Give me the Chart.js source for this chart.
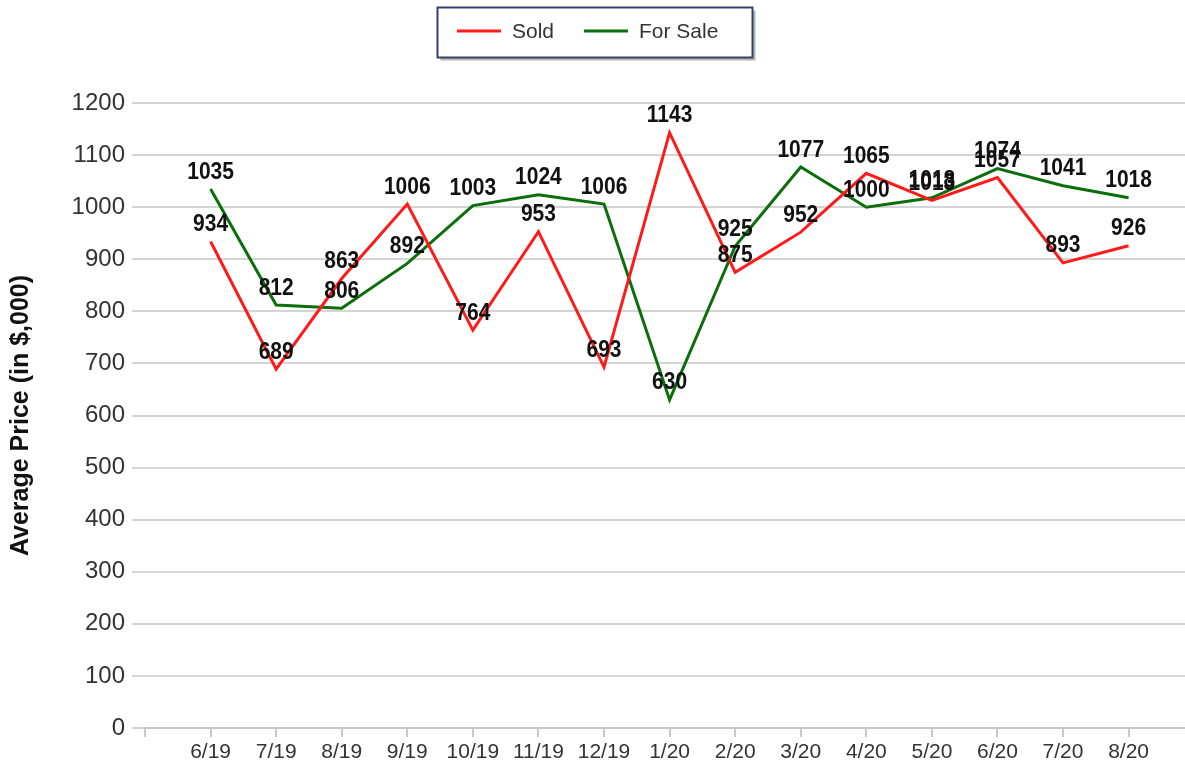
<!DOCTYPE html>
<html>
<head>
<meta charset="utf-8">
<script src="https://cdn.jsdelivr.net/npm/chart.js@4"></script>
<style>
  html, body { margin: 0; padding: 0; background: #ffffff; }
  #wrap { position: relative; width: 1185px; height: 769px; }
</style>
</head>
<body>
<div id="wrap"><canvas id="c" width="1185" height="769"></canvas></div>
<script>
const categories = ['6/19','7/19','8/19','9/19','10/19','11/19','12/19','1/20','2/20','3/20','4/20','5/20','6/20','7/20','8/20'];
const soldValues = [934, 689, 863, 1006, 764, 953, 693, 1143, 875, 952, 1065, 1013, 1057, 893, 926];
const forSaleValues = [1035, 812, 806, 892, 1003, 1024, 1006, 630, 925, 1077, 1000, 1018, 1074, 1041, 1018];
const seriesNames = ['Sold', 'For Sale'];
const seriesColors = ['#ff1a1a', '#0a6e0a'];
const yTickValues = [0,100,200,300,400,500,600,700,800,900,1000,1100,1200];
const yAxisTitle = 'Average Price (in $,000)';

const FONT = '"Liberation Sans", Arial, sans-serif';

function toPoints(vals) { return vals.map((v, i) => ({ x: i + 1, y: v })); }

const dataLabelPlugin = {
  id: 'dataLabels',
  afterDatasetsDraw(chart) {
    const ctx = chart.ctx;
    ctx.save();
    ctx.font = 'bold 21px ' + FONT;
    ctx.fillStyle = '#111111';
    ctx.textAlign = 'center';
    ctx.textBaseline = 'bottom';
    const sy = 1.15;
    chart.data.datasets.forEach((ds, di) => {
      const meta = chart.getDatasetMeta(di);
      meta.data.forEach((pt, i) => {
        ctx.save();
        ctx.translate(pt.x, pt.y - 5);
        ctx.scale(1, sy);
        ctx.fillText(String(ds.data[i].y), 0, 0);
        ctx.restore();
      });
    });
    ctx.restore();
  }
};

const boxLegendPlugin = {
  id: 'boxLegend',
  afterDraw(chart) {
    const ctx = chart.ctx;
    ctx.save();
    const bx = 437.5, by = 7.5, bw = 315, bh = 50;
    ctx.fillStyle = 'rgba(120,120,120,0.55)';
    ctx.fillRect(bx + 3, by + 3, bw, bh);
    ctx.fillStyle = '#ffffff';
    ctx.fillRect(bx, by, bw, bh);
    ctx.strokeStyle = '#34426a';
    ctx.lineWidth = 2;
    ctx.strokeRect(bx, by, bw, bh);
    ctx.font = '21px ' + FONT;
    ctx.textBaseline = 'middle';
    ctx.textAlign = 'left';
    let x = 457;
    const y = 31;
    chart.data.datasets.forEach((ds) => {
      ctx.strokeStyle = ds.borderColor;
      ctx.lineWidth = 3;
      ctx.beginPath();
      ctx.moveTo(x, y);
      ctx.lineTo(x + 44, y);
      ctx.stroke();
      ctx.fillStyle = '#333333';
      ctx.fillText(ds.label, x + 55, y + 1);
      x += 55 + ctx.measureText(ds.label).width + 30;
    });
    ctx.restore();
  }
};

new Chart(document.getElementById('c'), {
  type: 'line',
  data: {
    datasets: [
      { label: seriesNames[0], data: toPoints(soldValues), borderColor: seriesColors[0], backgroundColor: seriesColors[0], borderWidth: 3, pointRadius: 0, tension: 0, fill: false },
      { label: seriesNames[1], data: toPoints(forSaleValues), borderColor: seriesColors[1], backgroundColor: seriesColors[1], borderWidth: 3, pointRadius: 0, tension: 0, fill: false }
    ]
  },
  options: {
    responsive: false,
    animation: false,
    layout: { padding: { top: 103, left: 0, right: 0, bottom: 0 } },
    plugins: { legend: { display: false }, tooltip: { enabled: false } },
    scales: {
      x: {
        type: 'linear',
        min: 0,
        max: 15.86,
        afterBuildTicks(scale) {
          scale.ticks = [{ value: 0 }].concat(categories.map((c, i) => ({ value: i + 1 })));
        },
        afterFit(scale) { scale.height = 41; },
        ticks: {
          autoSkip: false,
          maxRotation: 0,
          padding: 3,
          color: '#333333',
          font: { family: FONT, size: 21 },
          callback(v) { return v >= 1 && v <= categories.length ? categories[v - 1] : ''; }
        },
        grid: { drawOnChartArea: false, drawTicks: true, tickLength: 9, color: '#c8c8c8', lineWidth: 2 },
        border: { display: true, color: '#c8c8c8', width: 2 }
      },
      y: {
        min: 0,
        max: 1200,
        afterBuildTicks(scale) { scale.ticks = yTickValues.map(v => ({ value: v })); },
        afterFit(scale) { scale.width = 145; },
        ticks: { padding: 7, color: '#333333', font: { family: FONT, size: 24 }, callback(v) { return String(v); } },
        grid: { color: '#d4d4d4', lineWidth: 2, tickLength: 13, drawTicks: true },
        border: { display: false },
        title: { display: true, text: yAxisTitle, color: '#111111', font: { family: FONT, size: 25, weight: 'bold' }, padding: { top: 6, bottom: 0 } }
      }
    }
  },
  plugins: [dataLabelPlugin, boxLegendPlugin]
});
</script>
</body>
</html>
